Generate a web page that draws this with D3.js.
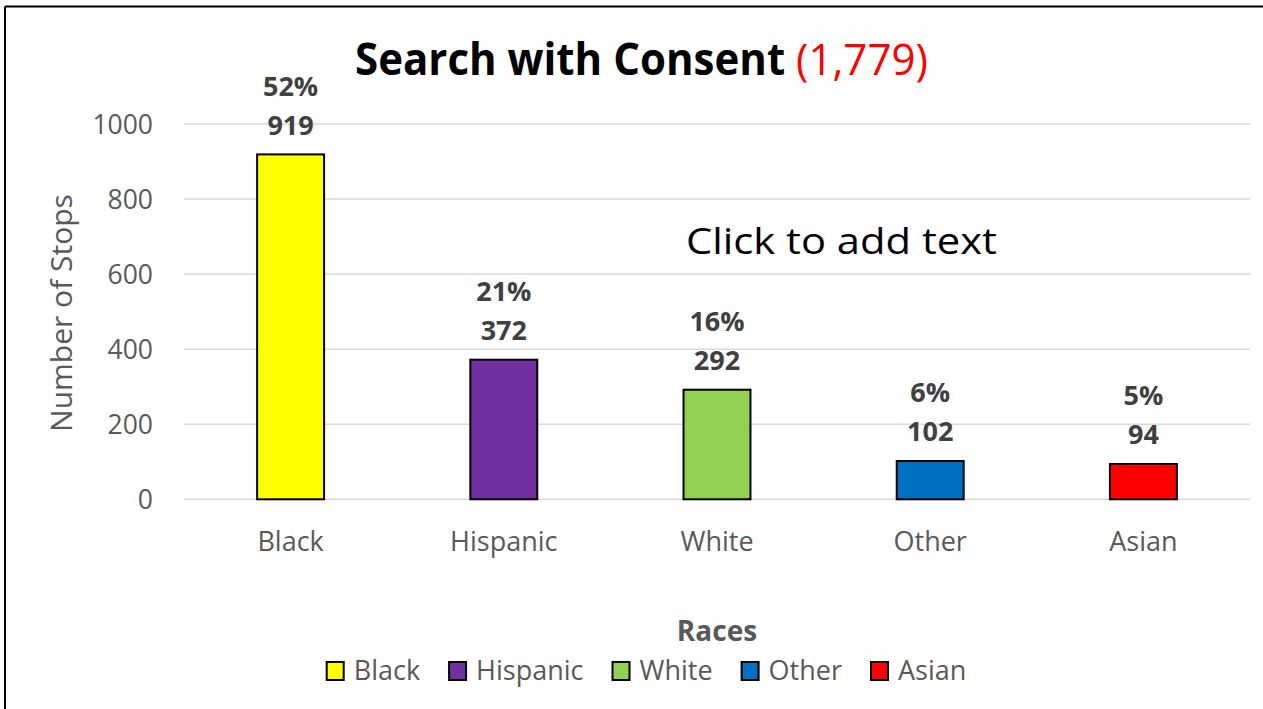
<!DOCTYPE html>
<html>
<head>
<meta charset="utf-8">
<script src="https://cdn.jsdelivr.net/npm/d3@7"></script>
<style>
  html, body { margin: 0; padding: 0; background: #fff; }
  svg { display: block; }
  text { font-family: "Open Sans", "Noto Sans", sans-serif; }
</style>
</head>
<body>
<svg id="chart" width="1263" height="709"></svg>
<script>
const categories = ["Black", "Hispanic", "White", "Other", "Asian"];
const values = [919, 372, 292, 102, 94];
const percents = ["52%", "21%", "16%", "6%", "5%"];
const colors = ["#FFFF00", "#7030A0", "#92D050", "#0070C0", "#FF0000"];
const yTicks = [0, 200, 400, 600, 800, 1000];
const titleMain = "Search with Consent ";
const titleTotal = "(1,779)";
const xAxisTitle = "Races";
const yAxisTitle = "Number of Stops";
const floatingText = "Click to add text";

const svg = d3.select("#chart");
const W = 1263, H = 709;

// frame (top + left visible)
svg.append("line").attr("x1", 5).attr("x2", W).attr("y1", 6.5).attr("y2", 6.5)
  .attr("stroke", "#000").attr("stroke-width", 2);
svg.append("line").attr("x1", 5).attr("x2", 5).attr("y1", 6.5).attr("y2", H)
  .attr("stroke", "#000").attr("stroke-width", 2);

const plot = { left: 184, right: 1250, top: 124, bottom: 499.3 };

const x = d3.scaleBand().domain(categories).range([plot.left, plot.right])
  .paddingInner(0.686).paddingOuter(0.343);
const y = d3.scaleLinear().domain([0, 1000]).range([plot.bottom, plot.top]);

// gridlines
svg.append("g").selectAll("line").data(yTicks).join("line")
  .attr("x1", plot.left).attr("x2", plot.right)
  .attr("y1", d => y(d)).attr("y2", d => y(d))
  .attr("stroke", "#d9d9d9").attr("stroke-width", 1.5);

// y axis labels
const yAxis = d3.axisLeft(y).tickValues(yTicks).tickFormat(d3.format("d")).tickSize(0).tickPadding(0);
const yg = svg.append("g").attr("transform", `translate(${plot.left - 31},0)`).call(yAxis);
yg.select(".domain").remove();
yg.selectAll("text").attr("font-size", 26.5).attr("fill", "#595959")
  .attr("font-family", "Open Sans").attr("dy", "0.35em");

// x axis labels
const xAxis = d3.axisBottom(x).tickSize(0).tickPadding(0);
const xg = svg.append("g").attr("transform", `translate(0,${plot.bottom + 42})`).call(xAxis);
xg.select(".domain").remove();
xg.selectAll("text").attr("font-size", 27).attr("fill", "#595959")
  .attr("font-family", "Open Sans").attr("dy", "0.35em");

// bars
svg.append("g").selectAll("rect").data(categories).join("rect")
  .attr("x", d => x(d)).attr("width", x.bandwidth())
  .attr("y", (d, i) => y(values[i])).attr("height", (d, i) => y(0) - y(values[i]))
  .attr("fill", (d, i) => colors[i]).attr("stroke", "#000").attr("stroke-width", 2);

// data labels
const lbl = svg.append("g");
categories.forEach((c, i) => {
  const cx = x(c) + x.bandwidth() / 2;
  const top = y(values[i]);
  lbl.append("text").attr("x", cx).attr("y", top - 29).attr("dy", "0.35em")
    .attr("text-anchor", "middle").attr("font-size", 27).attr("font-weight", "bold")
    .attr("fill", "#404040").text(values[i]);
  lbl.append("text").attr("x", cx).attr("y", top - 68).attr("dy", "0.35em")
    .attr("text-anchor", "middle").attr("font-size", 27).attr("font-weight", "bold")
    .attr("fill", "#404040").text(percents[i]);
});

// fit helper: scale horizontally so text spans [x0, x1]
function fitX(sel, x0, x1) {
  const bb = sel.node().getBBox();
  const sx = (x1 - x0) / bb.width;
  sel.attr("transform", `translate(${x0},0) scale(${sx},1) translate(${-bb.x},0)`);
}

// title
const title = svg.append("text").attr("x", 0).attr("y", 75).attr("font-size", 44);
title.append("tspan").attr("font-weight", "bold").attr("fill", "#000").text(titleMain);
title.append("tspan").attr("fill", "#FF0000").text(titleTotal);
fitX(title, 355, 928);

// floating text
const ft = svg.append("text").attr("x", 0).attr("y", 254).attr("font-size", 37)
  .attr("fill", "#000").text(floatingText);
fitX(ft, 686, 997);

// y axis title
svg.append("text").attr("transform", `translate(72,313) rotate(-90)`)
  .attr("text-anchor", "middle").attr("font-size", 30).attr("fill", "#595959")
  .text(yAxisTitle);

// x axis title
svg.append("text").attr("x", 717).attr("y", 631).attr("dy", "0.35em")
  .attr("text-anchor", "middle").attr("font-size", 28).attr("font-weight", "bold")
  .attr("fill", "#595959").text(xAxisTitle);

// legend
const leg = svg.append("g");
const sq = 17, gapIn = 10, gapOut = 29;
const items = categories.map((c, i) => {
  const t = leg.append("text").attr("font-size", 27).attr("fill", "#595959")
    .attr("y", 671).attr("dy", "0.35em").text(c);
  return { t, w: t.node().getComputedTextLength(), i };
});
const total = d3.sum(items, d => sq + gapIn + d.w) + gapOut * (items.length - 1);
let cx = 646.5 - total / 2;
items.forEach(d => {
  leg.append("rect").attr("x", cx).attr("y", 662).attr("width", sq).attr("height", 18)
    .attr("fill", colors[d.i]).attr("stroke", "#000").attr("stroke-width", 2);
  d.t.attr("x", cx + sq + gapIn);
  cx += sq + gapIn + d.w + gapOut;
});
</script>
</body>
</html>
